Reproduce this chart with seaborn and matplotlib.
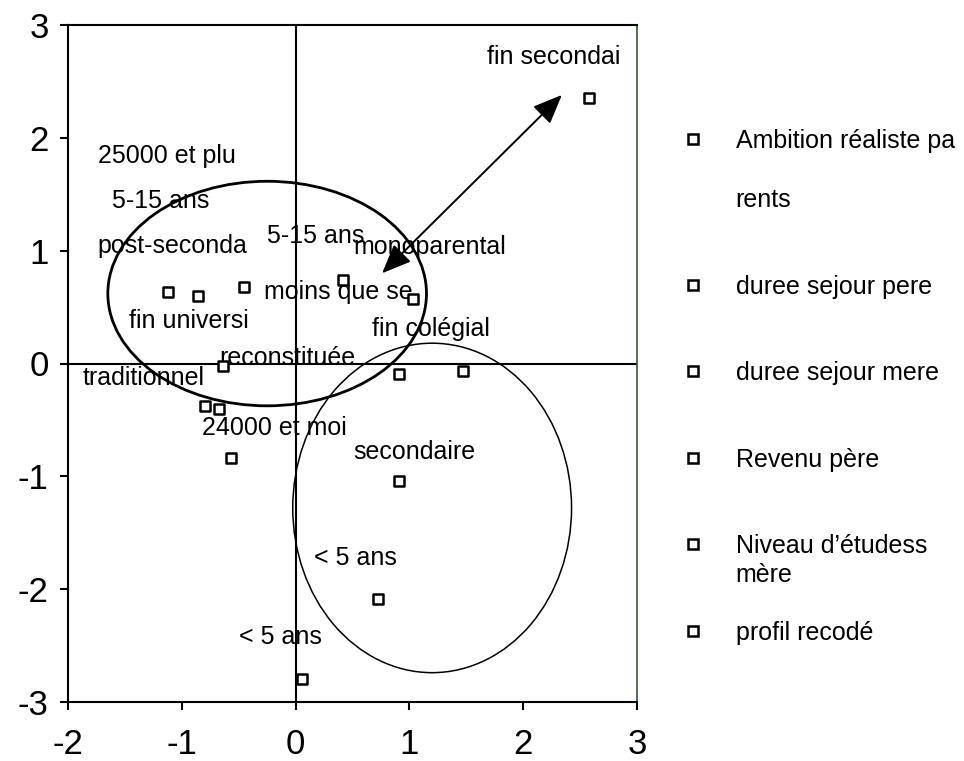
import numpy as np
import pandas as pd
import matplotlib
matplotlib.use("Agg")
import matplotlib.pyplot as plt
import seaborn as sns
from matplotlib.lines import Line2D
from matplotlib.patches import Ellipse

# ---- data ----
point_x = [2.58, -1.125, -0.86, -0.45, 0.42, 1.035, -0.64, 0.91, 1.47, -0.80, -0.67, -0.57, 0.91, 0.72, 0.06]
point_y = [2.35, 0.63, 0.60, 0.675, 0.74, 0.575, -0.02, -0.09, -0.07, -0.38, -0.40, -0.84, -1.04, -2.09, -2.80]
point_group = ["Ambition", "Niveau", "Revenu", "Pere", "Mere", "Niveau", "Profil", "Ambition",
               "Profil", "Profil", "Revenu", "Niveau", "Niveau", "Mere", "Pere"]

label_text = ["fin secondai", "25000 et plu", "5-15 ans", "post-seconda", "5-15 ans",
              "moins que se", "monoparental", "fin universi", "fin colégial", "reconstituée",
              "traditionnel", "24000 et moi", "secondaire", "< 5 ans", "< 5 ans"]
# label anchor (left edge, vertical centre) in data units
label_pos = [(1.68, 2.72), (-1.74, 1.84), (-1.61, 1.44), (-1.74, 1.04), (-0.25, 1.13),
             (-0.28, 0.63), (0.51, 1.03), (-1.46, 0.38), (0.675, 0.31), (-0.675, 0.045),
             (-1.87, -0.125), (-0.82, -0.57), (0.51, -0.78), (0.16, -1.72), (-0.50, -2.42)]

legend_labels = ["Ambition réaliste pa\n\nrents", "duree sejour pere", "duree sejour mere",
                 "Revenu père", "Niveau d’étudess", "profil recodé"]

x_ticks = [-2, -1, 0, 1, 2, 3]
y_ticks = [-3, -2, -1, 0, 1, 2, 3]

df = pd.DataFrame({"x": point_x, "y": point_y, "group": point_group})

# ---- style ----
sns.set_style("ticks")
plt.rcParams["font.family"] = ["Liberation Sans", "DejaVu Sans"]
plt.rcParams["axes.unicode_minus"] = False
plt.rcParams["text.color"] = "black"
plt.rcParams["xtick.color"] = "black"
plt.rcParams["ytick.color"] = "black"

fig = plt.figure(figsize=(9.64, 7.61), dpi=100)
ax = fig.add_axes([68 / 964, 1 - 702 / 761, (637 - 68) / 964, (702 - 25) / 761])

# reference lines
ax.axhline(0, color="black", lw=1.5, zorder=1)
ax.axvline(0, color="black", lw=1.5, zorder=1)

# ellipses
ax.add_patch(Ellipse((-0.25, 0.62), 2.80, 1.99, fill=False, ec="black", lw=2.0, zorder=2))
ax.add_patch(Ellipse((1.20, -1.28), 2.45, 2.92, fill=False, ec="black", lw=1.1, zorder=2))

# points
sns.scatterplot(data=df, x="x", y="y", marker="s", s=52, color="white",
                edgecolor="black", linewidth=1.8, legend=False, zorder=5, ax=ax)

# labels
for s, (lx, ly) in zip(label_text, label_pos):
    ax.text(lx, ly, s, fontsize=18, ha="left", va="center", color="black", zorder=4)

# double arrow
ax.annotate("", xy=(2.34, 2.38), xytext=(0.76, 0.80),
            arrowprops=dict(arrowstyle="<|-|>,head_length=0.6,head_width=0.25",
                            mutation_scale=30, lw=1.4, color="black",
                            shrinkA=0, shrinkB=0), zorder=6)

ax.set_xlim(-2, 3)
ax.set_ylim(-3, 3)
ax.set_xticks(x_ticks)
ax.set_yticks(y_ticks)
ax.set_xticklabels([str(v) for v in x_ticks])
ax.set_yticklabels([str(v) for v in y_ticks])
ax.set_xlabel("")
ax.set_ylabel("")
ax.tick_params(axis="both", direction="out", length=6, width=1.5, labelsize=25,
               colors="black", labelcolor="black")
ax.tick_params(axis="x", pad=13)
ax.tick_params(axis="y", pad=8)
for side in ["left", "bottom", "top"]:
    ax.spines[side].set_visible(True)
    ax.spines[side].set_linewidth(1.5)
    ax.spines[side].set_color("black")
ax.spines["right"].set_visible(True)
ax.spines["right"].set_linewidth(1.2)
ax.spines["right"].set_color("#2e5e2e")

# legend
handles = [Line2D([], [], marker="s", linestyle="none", markersize=7.2,
                  markerfacecolor="white", markeredgecolor="black", markeredgewidth=1.8)
           for _ in legend_labels]
leg = ax.legend(handles, legend_labels, loc="upper left",
                bbox_to_anchor=(680 / 964, 1 - 129 / 761), bbox_transform=fig.transFigure,
                frameon=False, fontsize=18, handlelength=1.0, handletextpad=1.22,
                labelspacing=2.5, borderpad=0, borderaxespad=0, numpoints=1,
                labelcolor="black")
for t in leg.get_texts():
    t.set_linespacing(1.29)
pitch_pt = 29 * 72 / 100
h0 = leg.legend_handles[0]
h0.set_ydata(np.asarray(h0.get_ydata()) + 32 * 72 / 100)

ax.annotate("mère", xy=(0, 0), xycoords=leg.get_texts()[4], xytext=(0, -pitch_pt),
            textcoords="offset points", fontsize=18, ha="left", va="bottom",
            color="black", annotation_clip=False, zorder=10)

fig.canvas.draw()
fig.savefig("out.png", dpi=100)
